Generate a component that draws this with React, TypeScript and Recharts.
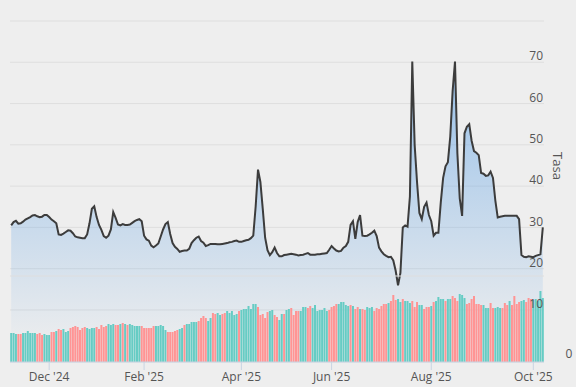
import { ComposedChart, Area, Bar, Cell, XAxis, YAxis, CartesianGrid, ReferenceLine } from 'recharts';

// Tasa (rate) per session
const tasa = [
  30.5, 31.3, 31.6, 30.9, 31.0, 31.4, 31.9, 32.2, 32.5, 32.9,
  33.0, 32.7, 32.5, 32.6, 33.0, 33.0, 32.5, 31.9, 31.5, 31.0,
  28.3, 28.2, 28.5, 28.9, 29.3, 29.2, 28.6, 27.8, 27.6, 27.5,
  27.4, 27.4, 28.3, 31.0, 34.5, 35.1, 32.5, 30.6, 29.4, 27.9,
  27.5, 28.0, 29.5, 33.7, 32.3, 30.7, 30.5, 30.8, 30.6, 30.6,
  30.7, 31.1, 31.5, 31.8, 32.0, 31.5, 28.0, 27.1, 26.8, 25.6,
  25.2, 25.6, 26.1, 27.8, 29.5, 30.8, 31.3, 28.4, 26.2, 25.3,
  24.8, 24.1, 24.3, 24.4, 24.4, 24.8, 26.2, 26.9, 27.5, 27.8,
  26.7, 26.3, 25.5, 25.7, 26.0, 26.0, 26.0, 25.9, 25.9, 26.0,
  26.1, 26.2, 26.4, 26.5, 26.7, 26.8, 26.5, 26.5, 26.7, 26.9,
  27.0, 27.4, 28.0, 35.0, 44.0, 41.0, 34.5, 27.5, 24.5, 23.3,
  24.0, 25.1, 23.8, 23.0, 23.0, 23.3, 23.4, 23.5, 23.6, 23.5,
  23.4, 23.2, 23.3, 23.4, 23.6, 23.8, 23.4, 23.4, 23.4, 23.5,
  23.5, 23.6, 23.7, 23.8, 24.6, 25.5, 24.9, 24.4, 24.2, 24.3,
  25.1, 25.5, 26.5, 30.6, 31.5, 27.2, 31.3, 33.0, 28.0, 27.9,
  28.0, 28.3, 28.7, 29.2, 27.9, 25.1, 24.2, 23.5, 23.1, 22.8,
  22.9, 22.0, 19.5, 16.0, 19.0, 30.0, 30.5, 30.2, 37.5, 70.2,
  50.0, 41.0, 33.5, 32.0, 35.0, 36.0, 33.0, 31.5, 28.0, 28.7,
  28.7, 36.0, 42.0, 44.8, 45.8, 52.0, 63.0, 70.2, 48.0, 37.0,
  32.8, 52.8, 54.4, 55.0, 51.0, 48.5, 48.1, 47.5, 43.2, 43.0,
  42.5, 42.6, 43.5, 42.0, 36.5, 32.4, 32.6, 32.7, 32.8, 32.8,
  32.8, 32.8, 32.8, 32.8, 32.0, 23.3, 22.9, 22.8, 23.0, 22.9,
  22.8, 23.1, 23.3, 23.5, 30.0,
];

// volume bars (relative units)
const volume = [
  29, 29, 28, 28, 28, 29, 29, 31, 29, 29,
  29, 28, 29, 27, 28, 27, 27, 30, 30, 31,
  33, 32, 33, 30, 31, 34, 35, 36, 35, 32,
  34, 35, 34, 33, 34, 34, 35, 33, 37, 35,
  36, 38, 37, 38, 37, 37, 38, 39, 38, 37,
  38, 37, 36, 36, 36, 36, 34, 34, 34, 34,
  36, 36, 36, 37, 36, 32, 30, 30, 30, 31,
  32, 33, 34,
  37, 38, 38, 40, 40, 40, 41, 44, 46, 44,
  41, 44, 49, 48, 49, 47, 48, 49, 51, 49,
  51, 47, 48, 51, 52, 53, 53, 56, 53, 58,
  58, 55, 47, 48, 44, 50, 51, 52, 47, 45,
  42, 48, 48, 52, 53, 54, 47, 51, 51, 51,
  55, 55, 54, 56, 54, 57, 51, 52, 52, 54,
  51, 52, 55, 56, 58, 58, 60, 60, 57, 56,
  57, 56, 53, 55, 53,
  53, 52, 55, 54, 55, 51, 54, 53, 56, 58,
  58, 59, 61, 67, 62, 63, 60, 63, 61, 61,
  59, 61, 55, 60, 57, 57, 53, 55, 55, 56,
  60, 61, 65, 63, 63, 61, 63, 63, 66, 64,
  61, 68, 67, 64, 58, 59, 63, 66, 58, 58,
  57, 57, 54, 54, 59, 54, 54, 55, 54, 54,
  59, 57, 61, 57, 66, 58, 60, 61, 62, 60,
  64, 63, 62, 63, 61, 71, 64,
];

// u = up (teal), d = down (red)
const volDir = (
  'uuudduuuuu' + 'uddduuuddu' + 'dduuuddddd' + 'dduuuudddd' + 'duuuddudud' +
  'uuuuuddddd' + 'duuuuudddd' + 'duu' +
  'duuuuudddd' + 'uudduudduu' + 'uuuduuuuuu' + 'uddddduudd' + 'uuduuddddu' +
  'uudduuuuuu' + 'udddduuuuu' + 'duddu' +
  'dduuuddddd' + 'duddduuduu' + 'uddduudddu' + 'duuuuduudd' + 'duuudddddd' +
  'duuudduuud' + 'ddudddduud' + 'dduuuuu'
).split('');

const tickIdx = [16, 56, 97, 135, 177, 220];
const tickLabels = ["Dec '24", "Feb '25", "Apr '25", "Jun '25", "Aug '25", "Oct '25"];
const tasaTicks = [10, 20, 30, 40, 50, 60, 70, 80];

const data = tasa.map((t, i) => ({ i, tasa: t, vol: volume[i] }));

const FONT = '"Open Sans", "DejaVu Sans", sans-serif';
const TEXT = '#555';

const renderTasaTick = (props: any) => {
  const { x, y, payload } = props;
  if (payload.value > 70) return <g />;
  return (
    <text x={x - 1} y={y - 5} textAnchor="end" dominantBaseline="middle" fontSize={12} fill={TEXT} fontFamily={FONT}>
      {payload.value}
    </text>
  );
};

const renderVolTick = (props: any) => {
  const { x, y, payload } = props;
  return (
    <text x={x + 24} y={y - 7} textAnchor="middle" dominantBaseline="middle" fontSize={12} fill={TEXT} fontFamily={FONT}>
      {payload.value}
    </text>
  );
};

export default function App() {
  return (
    <div style={{ position: 'absolute', left: 0, top: 0, width: 576, height: 387, background: '#eeeeee', fontFamily: FONT }}>
      <ComposedChart width={576} height={387} data={data} margin={{ top: 21, right: 30, left: 10, bottom: 0 }} barCategoryGap="8%">
        <defs>
          <linearGradient id="tasaFill" x1="0" y1="0" x2="0" y2="1">
            <stop offset="0%" stopColor="rgb(100,165,230)" stopOpacity={0.62} />
            <stop offset="100%" stopColor="rgb(100,165,230)" stopOpacity={0} />
          </linearGradient>
        </defs>
        <CartesianGrid yAxisId="tasa" horizontal vertical={false} stroke="#dedede" />
        <XAxis
          dataKey="i"
          height={25}
          ticks={tickIdx}
          interval={0}
          tickFormatter={(v: number) => tickLabels[tickIdx.indexOf(v)] ?? ''}
          tick={{ fill: TEXT, fontSize: 12, fontFamily: FONT }}
          tickSize={8}
          tickLine={{ stroke: '#c8d4e3' }}
          axisLine={{ stroke: '#c8d4e3' }}
        />
        <YAxis
          yAxisId="tasa"
          orientation="right"
          width={1}
          domain={[-2.6, 80]}
          ticks={tasaTicks}
          interval={0}
          tickSize={0}
          tickMargin={0}
          axisLine={false}
          tickLine={false}
          tick={renderTasaTick}
        />
        <YAxis
          yAxisId="vol"
          orientation="right"
          width={1}
          domain={[0, 341]}
          ticks={[0]}
          interval={0}
          tickSize={0}
          tickMargin={0}
          axisLine={false}
          tickLine={false}
          tick={renderVolTick}
        />
        <ReferenceLine yAxisId="vol" y={86} stroke="#dedede" />
        <Area
          yAxisId="tasa"
          type="linear"
          dataKey="tasa"
          stroke="#3c3c3c"
          strokeWidth={2}
          fill="url(#tasaFill)"
          fillOpacity={1}
          dot={false}
          activeDot={false}
          isAnimationActive={false}
        />
        <Bar yAxisId="vol" dataKey="vol" isAnimationActive={false}>
          {data.map((d, idx) => (
            <Cell key={idx} fill={volDir[idx] === 'u' ? '#66ccc4' : '#ff9494'} />
          ))}
        </Bar>
      </ComposedChart>
      <div
        style={{
          position: 'absolute',
          left: 558,
          top: 166,
          transform: 'translate(-50%, -50%) rotate(90deg)',
          fontSize: 13,
          color: TEXT,
          whiteSpace: 'nowrap',
        }}
      >
        Tasa
      </div>
    </div>
  );
}
